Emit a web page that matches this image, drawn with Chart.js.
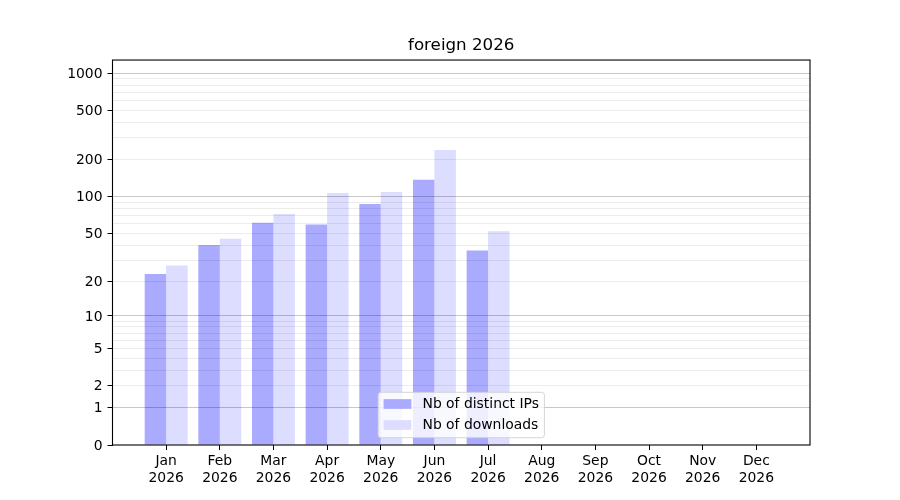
<!DOCTYPE html>
<html>
<head>
<meta charset="utf-8">
<title>foreign 2026</title>
<script src="https://cdn.jsdelivr.net/npm/chart.js@4.4.1/dist/chart.umd.min.js"></script>
<style>
  body { margin: 0; background: #fff; }
  canvas { display: block; }
</style>
</head>
<body>
<canvas id="chart" width="900" height="500"></canvas>
<script>
// data
const months = ['Jan', 'Feb', 'Mar', 'Apr', 'May', 'Jun', 'Jul', 'Aug', 'Sep', 'Oct', 'Nov', 'Dec'];
const year = '2026';
const distinctIps = [23, 40, 61, 59, 87, 137, 36, 0, 0, 0, 0, 0];
const downloads = [27, 45, 72, 107, 109, 239, 52, 0, 0, 0, 0, 0];
const yTickLabels = [0, 1, 2, 5, 10, 20, 50, 100, 200, 500, 1000];
const yMinorTicks = [3, 4, 6, 7, 8, 9, 30, 40, 60, 70, 80, 90, 300, 400, 600, 700, 800, 900];
const yMajorGrid = [1, 10, 100, 1000];
const yMax = 1273;

// y axis is log10(1 + v), like matplotlib's symlog-ish function scale
const f = v => Math.log10(1 + v);

class Log1pScale extends Chart.Scale {
    determineDataLimits() {
        this.min = this.options.min;
        this.max = this.options.max;
    }
    buildTicks() {
        return yTickLabels.concat(yMinorTicks).sort((a, b) => a - b).map(v => ({ value: v }));
    }
    configure() {
        super.configure();
        this._startValue = f(this.min);
        this._valueRange = f(this.max) - f(this.min);
    }
    getLabelForValue(value) {
        return String(value);
    }
    getPixelForValue(value) {
        if (value === null || value === undefined) value = this.min;
        return this.getPixelForDecimal((f(value) - this._startValue) / this._valueRange);
    }
    getValueForPixel(pixel) {
        return Math.pow(10, this._startValue + this.getDecimalForPixel(pixel) * this._valueRange) - 1;
    }
}
Log1pScale.id = 'log1p';
Log1pScale.defaults = {};
Chart.register(Log1pScale);

// one empty slot each side so the months sit a full step inside the frame
const labels = [''].concat(months.map(m => [m, year]), ['']);
const pad = arr => [null].concat(arr, [null]);

// frame + matplotlib-style legend, drawn on top of everything
const frameAndLegend = {
    id: 'frameAndLegend',
    afterDraw(chart) {
        const { ctx, chartArea: a } = chart;
        ctx.save();
        ctx.strokeStyle = '#000';
        ctx.lineWidth = 1.1;
        ctx.strokeRect(a.left, a.top, a.right - a.left, a.bottom - a.top);

        const items = chart.data.datasets.map(d => ({ text: d.label, color: d.backgroundColor }));
        ctx.font = '13.9px "DejaVu Sans"';
        const textW = Math.max(...items.map(i => ctx.measureText(i.text).width));
        const padX = 5.5, swW = 27.8, swH = 9.7, gap = 11.1, rowH = 21;
        const w = padX + swW + gap + textW + padX;
        const h = 45.4;
        const x0 = (a.left + a.right) / 2 - w / 2;
        const y0 = a.bottom - 7.3 - h;
        ctx.beginPath();
        ctx.roundRect(x0, y0, w, h, 2.8);
        ctx.fillStyle = 'rgba(255,255,255,0.8)';
        ctx.fill();
        ctx.strokeStyle = 'rgba(204,204,204,0.8)';
        ctx.lineWidth = 1;
        ctx.stroke();
        ctx.textBaseline = 'middle';
        ctx.textAlign = 'left';
        items.forEach((it, i) => {
            const cy = y0 + 11.7 + i * rowH;
            ctx.fillStyle = it.color;
            ctx.fillRect(x0 + padX, cy - swH / 2, swW, swH);
            ctx.fillStyle = '#000';
            ctx.fillText(it.text, x0 + padX + swW + gap, cy + 0.5);
        });
        ctx.restore();
    }
};

Chart.defaults.font.family = "'DejaVu Sans', sans-serif";
Chart.defaults.font.size = 13.9;
Chart.defaults.color = '#000';

new Chart(document.getElementById('chart'), {
    type: 'bar',
    data: {
        labels: labels,
        datasets: [{
            label: 'Nb of distinct IPs',
            data: pad(distinctIps),
            backgroundColor: '#aaaaff',
            borderWidth: 0,
            categoryPercentage: 0.8,
            barPercentage: 1
        }, {
            label: 'Nb of downloads',
            data: pad(downloads),
            backgroundColor: '#ddddff',
            borderWidth: 0,
            categoryPercentage: 0.8,
            barPercentage: 1
        }]
    },
    options: {
        responsive: false,
        animation: false,
        layout: { padding: { top: 0, right: 90, bottom: 0, left: 0 } },
        scales: {
            x: {
                offset: false,
                border: { display: false },
                grid: {
                    offset: false,
                    drawOnChartArea: false,
                    tickLength: 5,
                    tickColor: c => (c.index === 0 || c.index === labels.length - 1) ? 'rgba(0,0,0,0)' : '#000'
                },
                ticks: { autoSkip: false, maxRotation: 0, padding: 3.5, font: { lineHeight: 1.17 } },
                afterFit: s => { s.height = 55; }
            },
            y: {
                type: 'log1p',
                min: 0,
                max: yMax,
                border: { display: false },
                grid: {
                    z: 1,
                    color: c => {
                        const v = c.tick.value;
                        if (v === 0) return 'rgba(0,0,0,0)';
                        return yMajorGrid.includes(v) ? 'rgba(0,0,0,0.22)' : 'rgba(0,0,0,0.075)';
                    },
                    tickLength: 5,
                    tickColor: c => yTickLabels.includes(c.tick.value) ? '#000' : 'rgba(0,0,0,0)'
                },
                ticks: {
                    autoSkip: false,
                    padding: 5,
                    labelOffset: 1,
                    callback: v => yTickLabels.includes(v) ? String(v) : ''
                },
                afterFit: s => { s.width = 112.5; }
            }
        },
        plugins: {
            legend: { display: false },
            tooltip: { enabled: false },
            title: {
                display: true,
                text: 'foreign 2026',
                fullSize: false,
                color: '#000',
                font: { size: 16.7, weight: 'normal' },
                padding: { top: 36, bottom: 4 }
            }
        }
    },
    plugins: [frameAndLegend]
});
</script>
</body>
</html>
